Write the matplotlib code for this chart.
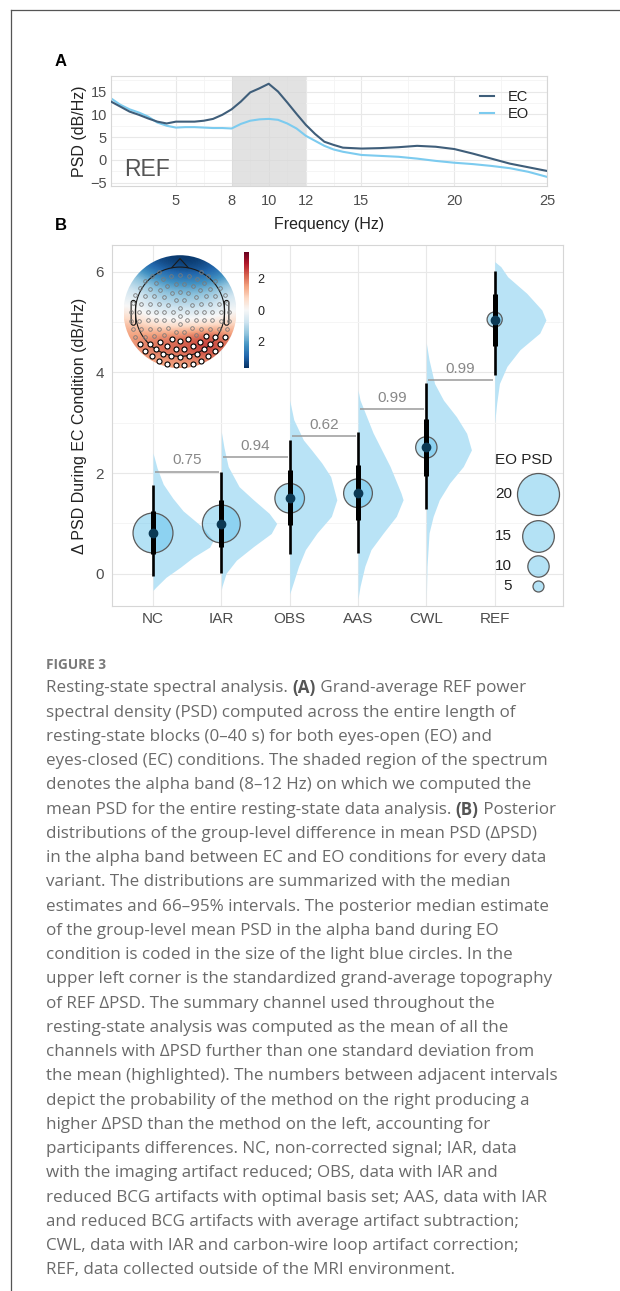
import re
import numpy as np
import matplotlib
matplotlib.use("Agg")
import matplotlib.pyplot as plt
from matplotlib.patches import Circle, Polygon, FancyBboxPatch
from matplotlib.lines import Line2D
from matplotlib.colors import Normalize
from matplotlib.cm import ScalarMappable
from matplotlib.ticker import FixedLocator

W, H = 620, 1291
plt.rcParams['font.family'] = ['Liberation Sans', 'DejaVu Sans']

# ---- panel A: grand-average spectra ----
freq = [1.5, 2, 2.5, 3, 3.5, 4, 4.5, 5, 5.5, 6, 6.5, 7, 7.5, 8, 8.5, 9, 9.5, 10,
        10.5, 11, 11.5, 12, 12.5, 13, 13.5, 14, 15, 16, 17, 18, 19, 20, 21, 22,
        23, 24, 25]
psd_ec = [12.8, 11.7, 10.6, 9.9, 9.1, 8.4, 8.0, 8.4, 8.4, 8.4, 8.6, 9.0, 9.9, 11.1,
          12.8, 14.8, 15.7, 16.7, 15.0, 12.6, 10.1, 7.7, 5.7, 4.0, 3.3, 2.7, 2.5,
          2.6, 2.8, 3.1, 2.9, 2.4, 1.4, 0.3, -0.8, -1.6, -2.4]
psd_eo = [13.5, 12.1, 11.1, 10.4, 9.5, 8.2, 7.5, 7.1, 7.2, 7.2, 7.1, 7.0, 7.0, 6.9,
          7.9, 8.6, 8.9, 9.0, 8.8, 8.0, 6.9, 5.3, 4.2, 3.1, 2.3, 1.8, 1.1, 0.9, 0.7,
          0.3, -0.2, -0.6, -0.9, -1.3, -1.8, -2.6, -3.7]
alpha_band = (8, 12)

# ---- panel B: posterior summaries per data variant ----
methods = ["NC", "IAR", "OBS", "AAS", "CWL", "REF"]
median = [0.81, 0.99, 1.50, 1.60, 2.51, 5.05]
q66_lo = [0.40, 0.54, 0.97, 1.06, 1.94, 4.52]
q66_hi = [1.24, 1.47, 2.06, 2.16, 3.08, 5.56]
q95_lo = [-0.05, 0.01, 0.39, 0.41, 1.29, 3.94]
q95_hi = [1.77, 2.03, 2.66, 2.81, 3.78, 6.01]
eo_psd = [19.0, 18.0, 14.0, 13.6, 10.0, 7.0]
eo_psd_legend = [20, 15, 10, 5]

# probability that the right method beats the left one
prob_right_higher = ["0.75", "0.94", "0.62", "0.99", "0.99"]
prob_line_y = [2.03, 2.31, 2.74, 3.27, 3.84]

# posterior densities (delta PSD level, half-width in category units)
dens_y = {
    "NC":  [2.40, 2.10, 1.78, 1.50, 1.25, 0.92, 0.66, 0.53, 0.33, 0.13, -0.07, -0.27, -0.33],
    "IAR": [2.82, 2.50, 2.13, 1.73, 1.47, 1.20, 1.00, 0.80, 0.54, 0.27, 0.01, -0.25, -0.32],
    "OBS": [3.45, 3.06, 2.66, 2.46, 2.20, 1.93, 1.47, 1.14, 0.81, 0.48, 0.15, -0.15, -0.40],
    "AAS": [3.65, 3.45, 2.80, 2.13, 1.60, 1.47, 1.14, 0.81, 0.48, 0.15, -0.25, -0.50],
    "CWL": [4.58, 4.25, 3.78, 3.45, 3.12, 2.79, 2.46, 2.13, 1.80, 1.47, 1.14, 0.81, 0.15, -0.50],
    "REF": [6.20, 6.10, 5.90, 5.57, 5.24, 5.04, 4.78, 4.45, 4.12, 3.78, 3.39, 3.00],
}
dens_w = {
    "NC":  [0, .06, .15, .29, .44, .73, .88, .83, .59, .40, .19, .04, 0],
    "IAR": [0, .04, .10, .26, .47, .70, .81, .73, .47, .22, .07, .01, 0],
    "OBS": [0, .06, .20, .32, .47, .60, .69, .61, .40, .23, .13, .06, 0],
    "AAS": [0, .03, .22, .47, .63, .66, .56, .37, .19, .10, .03, 0],
    "CWL": [0, .04, .12, .25, .44, .59, .66, .54, .34, .19, .10, .04, .01, 0],
    "REF": [0, .09, .19, .47, .69, .75, .66, .37, .18, .07, .03, 0],
}

# standardized REF delta-PSD topography, 9x9 grid from front (top) to back
topo = np.array([
    [-2.5, -3.0, -3.3, -3.5, -3.6, -3.6, -3.4, -3.1, -2.6],
    [-1.5, -2.0, -2.5, -2.8, -3.0, -3.0, -2.9, -2.6, -2.1],
    [-0.8, -1.2, -1.6, -1.9, -2.0, -2.0, -1.9, -1.6, -1.2],
    [-0.3, -0.6, -1.0, -1.2, -1.3, -1.3, -1.2, -0.9, -0.5],
    [0.3, -0.1, -0.4, -0.5, -0.6, -0.6, -0.5, -0.3, 0.0],
    [1.1, 0.8, 0.5, 0.4, 0.4, 0.4, 0.5, 0.6, 0.8],
    [1.6, 1.7, 1.8, 1.9, 2.0, 2.2, 2.4, 2.3, 1.8],
    [1.5, 1.9, 2.1, 2.2, 2.3, 2.5, 2.7, 2.4, 1.8],
    [1.1, 1.3, 1.4, 1.5, 1.5, 1.6, 1.7, 1.6, 1.3],
])
# electrode montage: concentric rings around a centre just behind the vertex
montage_centre = (0.0, -0.08)
ring_radius = [0, 0.145, 0.29, 0.435, 0.58, 0.725, 0.87]
ring_count = [1, 6, 12, 18, 24, 30, 36]
montage_front_limit = 0.72

EC_COL = '#3f5e7a'
EO_COL = '#7ccbef'
VIOLIN = '#b9e3f6'
BUBBLE = (0.35, 0.75, 0.92, 0.45)
TXT = '#4d4d4d'


def px_axes(fig, x0, y0, x1, y1):
    return fig.add_axes([x0 / W, 1 - y1 / H, (x1 - x0) / W, (y1 - y0) / H])


def gg_style(ax, size):
    ax.set_facecolor('white')
    for s in ax.spines.values():
        s.set_color('#d6d6d6')
        s.set_linewidth(0.8)
    ax.tick_params(which='both', length=0, labelsize=size, labelcolor=TXT)
    ax.grid(which='major', color='#e8e8e8', lw=0.8)
    ax.grid(which='minor', color='#f4f4f4', lw=0.6)
    ax.set_axisbelow(True)


fig = plt.figure(figsize=(W / 100, H / 100), dpi=100)

# page frame
fig.add_artist(Line2D([11 / W, 1], [1 - 10 / H, 1 - 10 / H], color='#555555', lw=0.9))
fig.add_artist(Line2D([11 / W, 11 / W], [0, 1 - 10 / H], color='#555555', lw=0.9))

# ---------------- panel A ----------------
axA = px_axes(fig, 111, 76, 547, 186)
gg_style(axA, 10.5)
axA.axvspan(*alpha_band, color='#d9d9d9', alpha=0.75, lw=0, zorder=1)
axA.plot(freq, psd_ec, color=EC_COL, lw=1.5, label='EC', zorder=3)
axA.plot(freq, psd_eo, color=EO_COL, lw=1.5, label='EO', zorder=2)
axA.set_xlim(1.5, 25)
axA.set_ylim(-5.7, 18.4)
axA.set_xticks([5, 8, 10, 12, 15, 20, 25])
axA.xaxis.set_minor_locator(FixedLocator([6.5, 9, 11, 13.5, 17.5, 22.5]))
axA.set_yticks([-5, 0, 5, 10, 15])
axA.yaxis.set_minor_locator(FixedLocator([-2.5, 2.5, 7.5, 12.5, 17.5]))
axA.tick_params(axis='x', pad=6)
axA.tick_params(axis='y', pad=3)
axA.set_xlabel('Frequency (Hz)', fontsize=11.5, color='#222222', labelpad=6)
axA.set_ylabel('PSD (dB/Hz)', fontsize=11.5, color='#222222', labelpad=2)
axA.text(0.03, 0.15, 'REF', transform=axA.transAxes, fontsize=16.5,
         color='#555555', va='center', ha='left')
legA = axA.legend(loc='upper right', bbox_to_anchor=(0.958, 0.87), frameon=False,
                  fontsize=10.5, handlelength=0.95, handletextpad=0.95,
                  labelspacing=0.2, borderpad=0, borderaxespad=0)
for t in legA.get_texts():
    t.set_color('#222222')

fig.text(55 / W, 1 - 62 / H, 'A', fontsize=12, fontweight='bold', va='center')
fig.text(55 / W, 1 - 226 / H, 'B', fontsize=12, fontweight='bold', va='center')

# ---------------- panel B ----------------
axB = px_axes(fig, 112, 245, 563, 606)
gg_style(axB, 11)
xpos = np.arange(1, len(methods) + 1)
for i, m in enumerate(methods):
    x = xpos[i]
    axB.fill_betweenx(dens_y[m], x, x + np.array(dens_w[m]), color=VIOLIN, lw=0, zorder=2)


def bubble_area(v):
    r = 1.033 * v + 0.33  # radius in pixels
    return (2 * r * 0.72) ** 2


axB.scatter(xpos, median, s=[bubble_area(v) for v in eo_psd], facecolor=BUBBLE,
            edgecolor='#5a5a5a', lw=0.9, zorder=3)
axB.vlines(xpos, q95_lo, q95_hi, color='black', lw=1.9, zorder=4)
axB.vlines(xpos, q66_lo, q66_hi, color='black', lw=3.6, zorder=4)
axB.plot(xpos, median, 'o', color='#0b3954', ms=6, zorder=5)

for i, (p, h) in enumerate(zip(prob_right_higher, prob_line_y)):
    axB.hlines(h, xpos[i] + 0.03, xpos[i + 1] - 0.03, color='#9a9a9a', lw=1.1, zorder=3)
    axB.annotate(p, (xpos[i] + 0.5, h), xytext=(0, 3), textcoords='offset points',
                 ha='center', va='bottom', fontsize=11, color='#888888')

axB.set_xlim(0.4, 7.0)
axB.set_ylim(-0.64, 6.53)
axB.set_xticks(xpos)
axB.set_xticklabels(methods)
axB.set_yticks([0, 2, 4, 6])
axB.yaxis.set_minor_locator(FixedLocator([1, 3, 5]))
axB.tick_params(axis='x', pad=4)
axB.tick_params(axis='y', pad=6)
axB.set_ylabel('\u0394 PSD During EC Condition (dB/Hz)', fontsize=11.5,
               color='#222222', labelpad=6)

# size legend for EO PSD
axB.text(0.912, 0.404, 'EO PSD', transform=axB.transAxes, fontsize=11,
         color='#222222', ha='center', va='center')
for v, yf in zip(eo_psd_legend, [0.309, 0.194, 0.112, 0.055]):
    axB.scatter([0.944], [yf], s=bubble_area(v), transform=axB.transAxes,
                facecolor=BUBBLE, edgecolor='#5a5a5a', lw=0.9,
                clip_on=False, zorder=6)
    axB.text(0.887, yf, str(v), transform=axB.transAxes, fontsize=11,
             color='#222222', ha='right', va='center')

# ---------------- topography inset ----------------
axT = px_axes(fig, 123.5, 255.2, 236.5, 368.2)
axT.set_xlim(-1, 1)
axT.set_ylim(-1, 1)
axT.set_aspect('equal')
axT.axis('off')
norm = Normalize(-3.7, 3.7)
img = axT.imshow(topo, extent=(-1, 1, -1, 1), cmap='RdBu_r', norm=norm,
                 interpolation='bicubic', zorder=1)
img.set_clip_path(Circle((0, 0), 1.0, transform=axT.transData))

# head outline, nose and ears
axT.add_patch(Circle((0, 0), 0.79, fill=False, ec='#1a1a1a', lw=0.8, zorder=3))
axT.add_patch(Polygon([[-0.15, 0.775], [0, 0.94], [0.15, 0.775]], closed=False,
                      fill=False, ec='#1a1a1a', lw=0.8, zorder=3))
for sx in (-1, 1):
    axT.add_patch(FancyBboxPatch((sx * 0.825 - 0.04, -0.24), 0.08, 0.44,
                                 boxstyle='round,pad=0,rounding_size=0.04',
                                 fill=False, ec='#1a1a1a', lw=0.8, zorder=3))

ex, ey = [], []
for r, n in zip(ring_radius, ring_count):
    for k in range(n):
        a = np.pi / 2 + 2 * np.pi * k / n + (np.pi / n if n % 4 == 0 else 0)
        px = montage_centre[0] + r * np.cos(a)
        py = montage_centre[1] + r * np.sin(a)
        if py <= montage_front_limit:
            ex.append(px)
            ey.append(py)
ex, ey = np.array(ex), np.array(ey)


def sample_topo(x, y):
    c = (x + 1) / 2 * (topo.shape[1] - 1)
    rr = (1 - y) / 2 * (topo.shape[0] - 1)
    c0 = np.clip(np.floor(c).astype(int), 0, topo.shape[1] - 2)
    r0 = np.clip(np.floor(rr).astype(int), 0, topo.shape[0] - 2)
    fc, fr = c - c0, rr - r0
    return (topo[r0, c0] * (1 - fc) * (1 - fr) + topo[r0, c0 + 1] * fc * (1 - fr)
            + topo[r0 + 1, c0] * (1 - fc) * fr + topo[r0 + 1, c0 + 1] * fc * fr)


ev = sample_topo(ex, ey)
hi = ev > ev.mean() + ev.std()
axT.plot(ex[~hi], ey[~hi], 'o', ms=2.6, mfc='none', mec='#7a7a7a', mew=0.6, zorder=4)
axT.plot(ex[hi], ey[hi], 'o', ms=3.6, mfc='white', mec='black', mew=0.8, zorder=5)

cax = px_axes(fig, 244.3, 251.7, 249.3, 368.3)
cb = fig.colorbar(ScalarMappable(norm=norm, cmap='RdBu_r'), cax=cax)
cb.outline.set_visible(False)
cb.set_ticks([-2, 0, 2])
cb.set_ticklabels(['2', '0', '2'])
cax.tick_params(length=0, labelsize=9, labelcolor='#222222', pad=6)

# ---------------- caption ----------------
CAP_FONT = ['Open Sans', 'DejaVu Sans']
CAP_SIZE = 12.25
CAP_COL = '#6a6a6a'
caption = [
    "Resting-state spectral analysis. (A) Grand-average REF power",
    "spectral density (PSD) computed across the entire length of",
    "resting-state blocks (0\u201340 s) for both eyes-open (EO) and",
    "eyes-closed (EC) conditions. The shaded region of the spectrum",
    "denotes the alpha band (8\u201312 Hz) on which we computed the",
    "mean PSD for the entire resting-state data analysis. (B) Posterior",
    "distributions of the group-level difference in mean PSD (\u0394PSD)",
    "in the alpha band between EC and EO conditions for every data",
    "variant. The distributions are summarized with the median",
    "estimates and 66\u201395% intervals. The posterior median estimate",
    "of the group-level mean PSD in the alpha band during EO",
    "condition is coded in the size of the light blue circles. In the",
    "upper left corner is the standardized grand-average topography",
    "of REF \u0394PSD. The summary channel used throughout the",
    "resting-state analysis was computed as the mean of all the",
    "channels with \u0394PSD further than one standard deviation from",
    "the mean (highlighted). The numbers between adjacent intervals",
    "depict the probability of the method on the right producing a",
    "higher \u0394PSD than the method on the left, accounting for",
    "participants differences. NC, non-corrected signal; IAR, data",
    "with the imaging artifact reduced; OBS, data with IAR and",
    "reduced BCG artifacts with optimal basis set; AAS, data with IAR",
    "and reduced BCG artifacts with average artifact subtraction;",
    "CWL, data with IAR and carbon-wire loop artifact correction;",
    "REF, data collected outside of the MRI environment.",
]

fig.text(46 / W, 1 - 665 / H, 'FIGURE 3', family=CAP_FONT, fontsize=9.8,
         fontweight='bold', color='#7a7a7a', va='center', ha='left')

renderer = fig.canvas.get_renderer()


def seg_width(s, weight):
    a = fig.text(0, 0, s + '|', family=CAP_FONT, fontsize=CAP_SIZE, fontweight=weight)
    b = fig.text(0, 0, '|', family=CAP_FONT, fontsize=CAP_SIZE, fontweight=weight)
    w = a.get_window_extent(renderer).width - b.get_window_extent(renderer).width
    a.remove()
    b.remove()
    return w


for n, line in enumerate(caption):
    y = 688.3 + n * 24.25
    x = 46.0
    for part in re.split(r'(\([AB]\))', line):
        if not part:
            continue
        weight = 'bold' if part in ('(A)', '(B)') else 'normal'
        col = '#555555' if weight == 'bold' else CAP_COL
        fig.text(x / W, 1 - y / H, part, family=CAP_FONT, fontsize=CAP_SIZE,
                 fontweight=weight, color=col, va='center', ha='left')
        x += seg_width(part, weight)

fig.savefig('out.png', dpi=100)
